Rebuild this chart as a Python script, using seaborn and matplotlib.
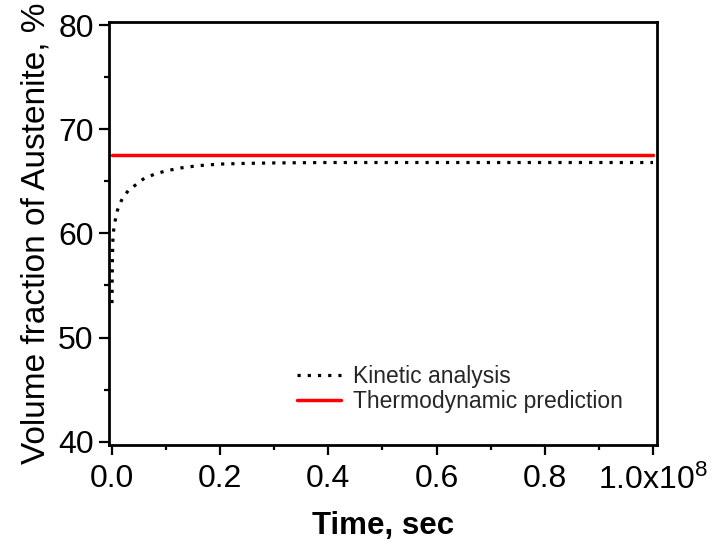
import numpy as np
import pandas as pd
import matplotlib
matplotlib.use("Agg")
import matplotlib.pyplot as plt
import seaborn as sns
from matplotlib.ticker import MultipleLocator, FixedLocator

# ---- data (time in seconds, volume fraction in %) ----
kin_time = [0, 0.0005e8, 0.001e8, 0.002e8, 0.004e8, 0.007e8, 0.01e8, 0.015e8,
            0.02e8, 0.03e8, 0.04e8, 0.05e8, 0.06e8, 0.08e8, 0.10e8, 0.13e8,
            0.16e8, 0.20e8, 0.25e8, 0.30e8, 0.40e8, 0.50e8, 0.60e8, 0.80e8, 1.0e8]
kin_frac = [53.3, 56.0, 58.0, 59.8, 60.7, 61.5, 62.2, 62.9,
            63.4, 64.1, 64.5, 64.9, 65.3, 65.7, 66.0, 66.3,
            66.5, 66.65, 66.72, 66.76, 66.8, 66.8, 66.8, 66.8, 66.8]
thermo_time = [0, 1.0e8]
thermo_frac = [67.5, 67.5]

xticks = [0, 0.2e8, 0.4e8, 0.6e8, 0.8e8, 1.0e8]
xticklabels = ["0.0", "0.2", "0.4", "0.6", "0.8", "1.0x10$^{8}$"]
yticks = [40, 50, 60, 70, 80]

kin_df = pd.DataFrame({"t": kin_time, "v": kin_frac})
th_df = pd.DataFrame({"t": thermo_time, "v": thermo_frac})

sns.set_theme(style="ticks")
plt.rcParams["font.family"] = ["Liberation Sans", "DejaVu Sans"]
plt.rcParams["mathtext.fontset"] = "custom"
plt.rcParams["mathtext.rm"] = "Liberation Sans"
plt.rcParams["mathtext.it"] = "Liberation Sans"
plt.rcParams["mathtext.bf"] = "Liberation Sans:bold"

fig = plt.figure(figsize=(7.12, 5.55), dpi=100)
ax = fig.add_axes([109/712, 1-445/555, (657-109)/712, (445-22)/555])

sns.lineplot(data=kin_df, x="t", y="v", ax=ax, color="black", lw=2.3,
             linestyle=(0, (1, 2.2)), label="Kinetic analysis", estimator=None,
             sort=False)
sns.lineplot(data=th_df, x="t", y="v", ax=ax, color="#ff0000", lw=2.5,
             label="Thermodynamic prediction", estimator=None, sort=False)

ax.set_xlim(-0.0055e8, 1.0074e8)
ax.set_ylim(39.68, 80.29)
ax.xaxis.set_major_locator(FixedLocator(xticks))
ax.set_xticklabels(xticklabels)
ax.xaxis.set_minor_locator(MultipleLocator(0.1e8))
ax.yaxis.set_major_locator(FixedLocator(yticks))
ax.yaxis.set_minor_locator(MultipleLocator(5))

for s in ax.spines.values():
    s.set_visible(True)
    s.set_linewidth(2.0)
    s.set_color("black")

ax.tick_params(which="major", direction="out", length=7, width=1.6,
               color="black", labelsize=23, labelcolor="black")
ax.tick_params(which="minor", direction="out", length=3.5, width=1.6,
               color="black")
ax.tick_params(axis="x", which="major", pad=7)
ax.tick_params(axis="y", which="major", pad=4)
ax.tick_params(top=False, right=False, which="both")

ax.set_xlabel("Time, sec", fontsize=22.5, fontweight="bold", labelpad=11,
              color="black")
ax.set_ylabel("Volume fraction of Austenite, %", fontsize=24, labelpad=5,
              color="black")

leg = ax.legend(loc="center left", bbox_to_anchor=(297/712, 1-389/555),
                bbox_transform=fig.transFigure, frameon=False, fontsize=16.5,
                handlelength=1.9, handletextpad=0.55, labelspacing=0.12,
                borderpad=0, borderaxespad=0)
ax.grid(False)

fig.savefig("out.png", dpi=100)
